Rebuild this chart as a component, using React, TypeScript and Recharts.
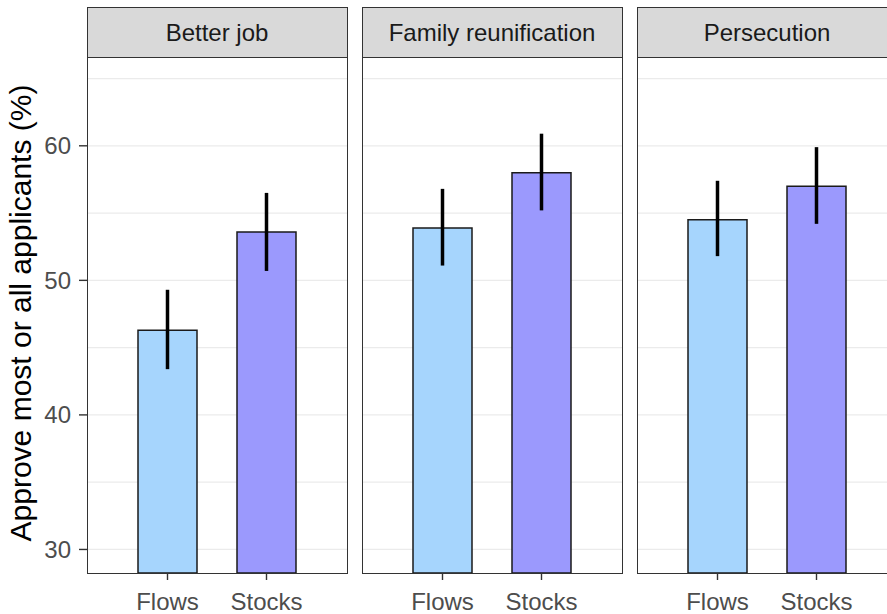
import React from 'react';
import { BarChart, Bar, XAxis, YAxis, CartesianGrid, ErrorBar, Cell } from 'recharts';

const facets = ['Better job', 'Family reunification', 'Persecution'];
const types = ['Flows', 'Stocks'];
const flowsMean = [46.3, 53.9, 54.5];
const flowsLow = [43.4, 51.1, 51.8];
const flowsHigh = [49.3, 56.8, 57.4];
const stocksMean = [53.6, 58.0, 57.0];
const stocksLow = [50.7, 55.2, 54.2];
const stocksHigh = [56.5, 60.9, 59.9];
const yTicks = [30, 40, 50, 60];
const gridValues = [30, 35, 40, 45, 50, 55, 60, 65];
const yDomain = [28.25, 66.6];
const fills = ['#a6d5fd', '#9b99fd'];

const panelLefts = [87, 362, 637];
const PANEL_W = 260;
const PLOT_TOP = 57;
const PLOT_BOTTOM = 573;
const FONT = '"Liberation Sans", Arial, sans-serif';

function facetData(i: number) {
  return [
    { type: types[0], value: flowsMean[i], err: [flowsMean[i] - flowsLow[i], flowsHigh[i] - flowsMean[i]] },
    { type: types[1], value: stocksMean[i], err: [stocksMean[i] - stocksLow[i], stocksHigh[i] - stocksMean[i]] },
  ];
}

function Panel({ i }: { i: number }) {
  const first = i === 0;
  const yW = first ? panelLefts[0] : 0;
  const left = first ? 0 : panelLefts[i];
  return (
    <div style={{ position: 'absolute', left, top: 0 }}>
      <BarChart
        width={PANEL_W + yW + (first ? 1 : 0)}
        height={614}
        data={facetData(i)}
        margin={{ top: PLOT_TOP, right: first ? 1 : 0, bottom: 0, left: 0 }}
        barCategoryGap={0}
      >
        <CartesianGrid vertical={false} stroke="#ebebeb" strokeWidth={1.2} horizontalValues={gridValues} />
        <XAxis
          dataKey="type"
          height={614 - PLOT_BOTTOM}
          padding={{ left: 31, right: 31 }}
          axisLine={false}
          tickLine={{ stroke: '#333333', strokeWidth: 1.4 }}
          tickSize={7}
          tickMargin={13}
          tick={{ fill: '#4d4d4d', fontSize: 24 }}
          interval={0}
        />
        <YAxis
          type="number"
          domain={yDomain}
          allowDataOverflow
          ticks={yTicks}
          hide={!first}
          width={yW}
          axisLine={false}
          tickLine={{ stroke: '#333333', strokeWidth: 1.4 }}
          tickSize={8}
          tickMargin={8}
          tick={{ fill: '#4d4d4d', fontSize: 24 }}
        />
        <Bar dataKey="value" barSize={59} stroke="#1a1a1a" strokeWidth={1.5} isAnimationActive={false}>
          {facetData(i).map((d, k) => (
            <Cell key={d.type} fill={fills[k]} />
          ))}
          <ErrorBar dataKey="err" width={0} stroke="#000000" strokeWidth={3.5} isAnimationActive={false} />
        </Bar>
      </BarChart>
    </div>
  );
}

export default function App() {
  return (
    <div
      style={{
        position: 'absolute',
        left: 0,
        top: 0,
        width: 887,
        height: 614,
        background: '#ffffff',
        overflow: 'hidden',
        fontFamily: FONT,
      }}
    >
      {facets.map((f, i) => (
        <Panel key={f} i={i} />
      ))}
      {facets.map((f, i) => (
        <div
          key={'border' + f}
          style={{
            position: 'absolute',
            left: panelLefts[i] - 0.5,
            top: PLOT_TOP - 1,
            width: PANEL_W + 1,
            height: PLOT_BOTTOM - PLOT_TOP + 1.5,
            border: '1.7px solid #333333',
            boxSizing: 'border-box',
            pointerEvents: 'none',
          }}
        />
      ))}
      {facets.map((f, i) => (
        <div
          key={'strip' + f}
          style={{
            position: 'absolute',
            left: panelLefts[i] - 0.5,
            top: 7,
            width: PANEL_W + 1,
            height: PLOT_TOP - 7 + 0.5,
            border: '1.7px solid #333333',
            boxSizing: 'border-box',
            background: '#d9d9d9',
            display: 'flex',
            alignItems: 'center',
            justifyContent: 'center',
            fontSize: 24,
            color: '#1a1a1a',
            lineHeight: 1,
            paddingTop: 2,
          }}
        >
          {f}
        </div>
      ))}
      <div
        style={{
          position: 'absolute',
          left: 21,
          top: 313,
          transform: 'translate(-50%, -50%) rotate(-90deg)',
          whiteSpace: 'nowrap',
          fontSize: 30,
          lineHeight: 1,
          color: '#000000',
        }}
      >
        Approve most or all applicants (%)
      </div>
    </div>
  );
}
